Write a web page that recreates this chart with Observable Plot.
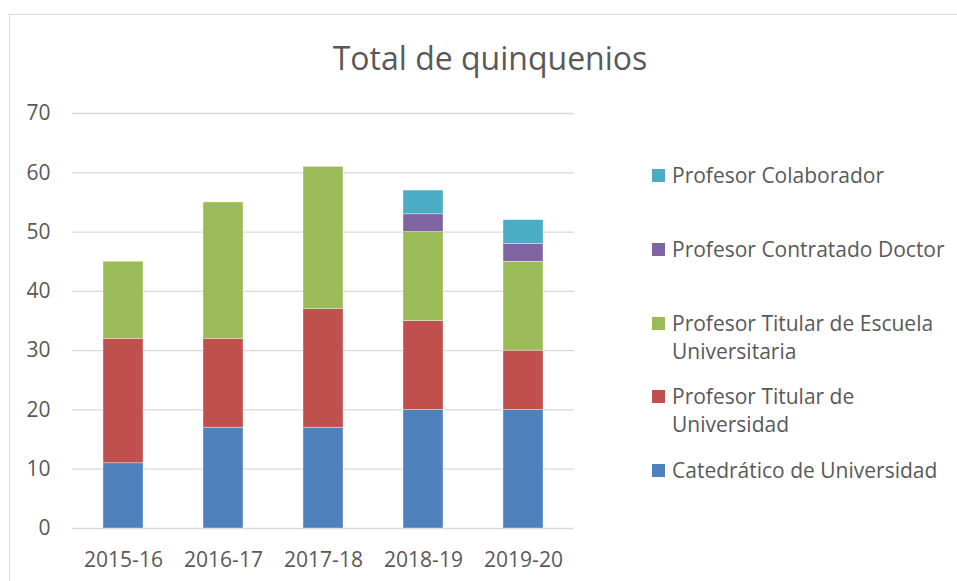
<!DOCTYPE html>
<html>
<head>
<meta charset="utf-8">
<script src="https://cdn.jsdelivr.net/npm/d3@7"></script>
<script src="https://cdn.jsdelivr.net/npm/@observablehq/plot@0.6"></script>
<style>
  html, body { margin: 0; padding: 0; width: 957px; height: 581px; overflow: hidden; background: #fff; font-family: "Open Sans", sans-serif; color: #595959; }
  #frame { position: absolute; left: 9px; top: 14px; width: 1000px; height: 700px; border: 1px solid #d9d9d9; box-sizing: border-box; }
  #title { position: absolute; left: 0; width: 980px; top: 36px; text-align: center; font-size: 32px; line-height: 44px; color: #595959; }
  #chart { position: absolute; left: 0; top: 0; }
  #legend { position: absolute; left: 652px; top: 0; font-size: 21px; color: #595959; }
  .sw { position: absolute; left: 0; width: 13px; height: 13px; }
  .lab { position: absolute; left: 20px; white-space: nowrap; }
</style>
</head>
<body>
<div id="frame"></div>
<div id="title">Total de quinquenios</div>
<div id="chart"></div>
<div id="legend"></div>
<script>
const years = ["2015-16", "2016-17", "2017-18", "2018-19", "2019-20"];
const series = ["Catedrático de Universidad", "Profesor Titular de Universidad", "Profesor Titular de Escuela Universitaria", "Profesor Contratado Doctor", "Profesor Colaborador"];
const catedratico = [11, 17, 17, 20, 20];
const titularUniversidad = [21, 15, 20, 15, 10];
const titularEscuela = [13, 23, 24, 15, 15];
const contratadoDoctor = [0, 0, 0, 3, 3];
const colaborador = [0, 0, 0, 4, 4];
const colors = ["#4F81BD", "#C0504D", "#9BBB59", "#8064A2", "#4BACC6"];
const yTicks = [0, 10, 20, 30, 40, 50, 60, 70];

const values = [catedratico, titularUniversidad, titularEscuela, contratadoDoctor, colaborador];
const rows = [];
years.forEach((y, i) => {
  series.forEach((s, j) => rows.push({year: y, serie: s, value: values[j][i]}));
});

const chart = Plot.plot({
  width: 957,
  height: 581,
  marginLeft: 72,
  marginRight: 383,
  marginTop: 113,
  marginBottom: 53,
  style: {fontFamily: "Open Sans, sans-serif", color: "#595959", background: "transparent"},
  x: {domain: years, paddingInner: 0.6, paddingOuter: 0.3, label: null},
  y: {domain: [0, 70], label: null},
  color: {domain: series, range: colors},
  marks: [
    Plot.ruleY(yTicks, {stroke: "#d9d9d9", strokeWidth: 1.3}),
    Plot.barY(rows.filter(d => d.value > 0), {x: "year", y: "value", fill: "serie", order: series, stroke: "#ffffff", strokeWidth: 0.6, strokeOpacity: 0.6}),
    Plot.axisY({ticks: yTicks, tickSize: 0, tickPadding: 22, fontSize: 21, fill: "#595959", label: null}),
    Plot.axisX({tickSize: 0, tickPadding: 24, fontSize: 21, fill: "#595959", label: null})
  ]
});
document.getElementById("chart").appendChild(chart);

const legendItems = [
  {lines: ["Profesor Colaborador"], y: 175, color: colors[4]},
  {lines: ["Profesor Contratado Doctor"], y: 249, color: colors[3]},
  {lines: ["Profesor Titular de Escuela", "Universitaria"], y: 323, color: colors[2]},
  {lines: ["Profesor Titular de", "Universidad"], y: 396, color: colors[1]},
  {lines: ["Catedrático de Universidad"], y: 470, color: colors[0]}
];
const legend = document.getElementById("legend");
legendItems.forEach(it => {
  const sw = document.createElement("div");
  sw.className = "sw";
  sw.style.top = (it.y - 6.5) + "px";
  sw.style.background = it.color;
  legend.appendChild(sw);
  it.lines.forEach((ln, k) => {
    const t = document.createElement("div");
    t.className = "lab";
    t.style.top = (it.y - 14.25 + k * 28.5) + "px";
    t.style.lineHeight = "28.5px";
    t.textContent = ln;
    legend.appendChild(t);
  });
});
</script>
</body>
</html>
